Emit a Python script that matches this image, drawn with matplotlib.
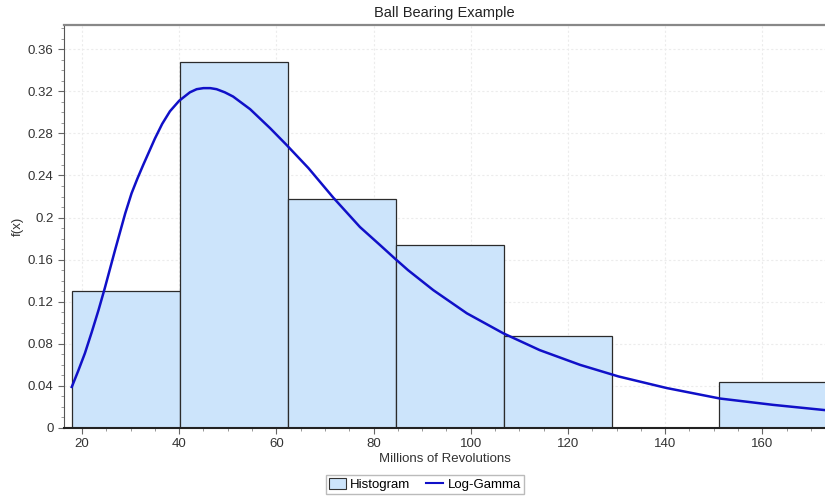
import numpy as np
import matplotlib
matplotlib.use("Agg")
import matplotlib.pyplot as plt
from matplotlib.patches import Patch
from matplotlib.lines import Line2D
from matplotlib.ticker import MultipleLocator

plt.rcParams['font.family'] = ['Liberation Sans', 'DejaVu Sans']

# Histogram bins (millions of revolutions) and relative frequencies
bin_edges = [17.88, 40.10, 62.31, 84.53, 106.75, 128.97, 151.18, 173.40]
freq = [0.1304, 0.3478, 0.2174, 0.1739, 0.0870, 0.0, 0.0435]

# Log-Gamma fit curve
curve_x = [17.9, 19.2, 20.6, 22.0, 23.4, 24.7, 26.8, 28.9, 30.2, 31.4, 32.6,
           35.0, 36.5, 38.1, 40.0, 42.2, 43.6, 45.0, 46.4, 47.7, 49.4, 51.1,
           54.6, 58.7, 62.1, 66.6, 71.7, 77.2, 81.3, 84.4, 87.1, 92.3, 99.2,
           106.7, 114.2, 122.5, 130.4, 140.3, 151.3, 162.2, 172.9]
curve_y = [0.039, 0.054, 0.071, 0.091, 0.112, 0.133, 0.169, 0.204, 0.223,
           0.237, 0.250, 0.275, 0.289, 0.301, 0.311, 0.319, 0.322, 0.323,
           0.323, 0.322, 0.319, 0.315, 0.303, 0.285, 0.269, 0.247, 0.219,
           0.191, 0.174, 0.161, 0.150, 0.131, 0.109, 0.090, 0.074, 0.060,
           0.049, 0.038, 0.028, 0.022, 0.017]

y_ticks = [0, 0.04, 0.08, 0.12, 0.16, 0.2, 0.24, 0.28, 0.32, 0.36]
y_labels = ["0", "0.04", "0.08", "0.12", "0.16", "0.2", "0.24", "0.28", "0.32", "0.36"]
x_ticks = [20, 40, 60, 80, 100, 120, 140, 160]

bar_col = "#cce4fb"
line_col = "#1010c8"

fig = plt.figure(figsize=(8.25, 5.01), dpi=100)
ax = fig.add_axes([64 / 825, 73 / 501, 761 / 825, 403 / 501])

widths = np.diff(bin_edges)
ax.bar(bin_edges[:-1], freq, width=widths, align="edge", color=bar_col,
       edgecolor="#2b2b2b", linewidth=0.9, zorder=2)
ax.plot(curve_x, curve_y, color=line_col, lw=1.8, zorder=3,
        solid_joinstyle="round")

ax.set_xlim(16.3, 172.9)
ax.set_ylim(0, 0.383)
ax.set_xticks(x_ticks)
ax.set_yticks(y_ticks)
ax.set_yticklabels(y_labels)
ax.xaxis.set_minor_locator(MultipleLocator(5))
ax.yaxis.set_minor_locator(MultipleLocator(0.01))
ax.tick_params(axis="both", which="major", direction="out", length=4,
               color="#666666", labelsize=9.5, labelcolor="#333333")
ax.tick_params(axis="both", which="minor", direction="out", length=2,
               color="#888888")

ax.grid(True, which="major", ls=(0, (2, 2)), color="#ececec", lw=0.8)
ax.set_axisbelow(True)

ax.spines["top"].set_color("#888888")
ax.spines["top"].set_linewidth(1.6)
ax.spines["left"].set_color("#555555")
ax.spines["bottom"].set_color("#222222")
ax.spines["bottom"].set_linewidth(1.5)
ax.spines["right"].set_visible(False)

ax.set_title("Ball Bearing Example", fontsize=10.5, color="#222222", pad=6)
ax.set_xlabel("Millions of Revolutions", fontsize=9.5, color="#333333", labelpad=2)
ax.set_ylabel("f(x)", fontsize=9.5, color="#333333", labelpad=3)

handles = [Patch(facecolor=bar_col, edgecolor="#333333", linewidth=0.8),
           Line2D([0], [0], color=line_col, lw=1.5)]
fig.legend(handles, ["Histogram", "Log-Gamma"], loc="lower center",
           bbox_to_anchor=(0.515, 0.0), ncol=2, fontsize=9.5, frameon=True,
           fancybox=False, edgecolor="#aaaaaa", handlelength=1.3,
           handleheight=0.9, handletextpad=0.3, columnspacing=1.2,
           borderpad=0.25)

fig.savefig("out.png", dpi=100)
